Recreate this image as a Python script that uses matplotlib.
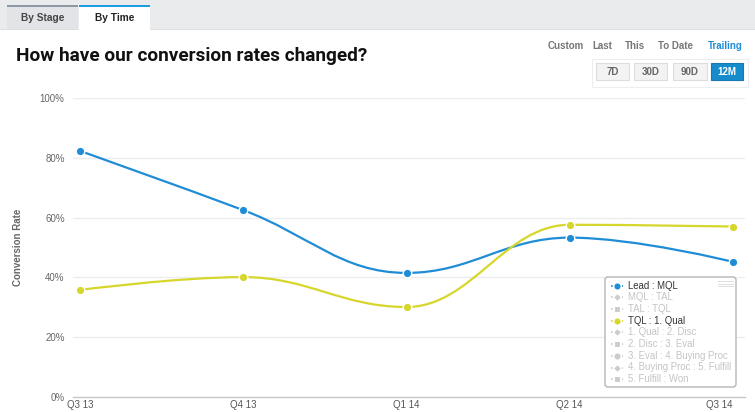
import matplotlib
matplotlib.use("Agg")
import matplotlib.pyplot as plt
from matplotlib.path import Path
from matplotlib.patches import PathPatch, Rectangle, FancyBboxPatch
from matplotlib.lines import Line2D

# ---------------- data ----------------
quarters = ["Q3 13", "Q4 13", "Q1 14", "Q2 14", "Q3 14"]
lead_mql = [82.3, 62.5, 41.5, 53.3, 45.2]
tql_qual = [35.8, 40.1, 30.1, 57.6, 57.0]
y_ticks = [0, 20, 40, 60, 80, 100]
legend_labels = ["Lead : MQL", "MQL : TAL", "TAL : TQL", "TQL : 1. Qual",
                 "1. Qual : 2. Disc", "2. Disc : 3. Eval", "3. Eval : 4. Buying Proc",
                 "4. Buying Proc : 5. Fulfill", "5. Fulfill : Won"]
legend_active = [True, False, False, True, False, False, False, False, False]
legend_markers = ["o", "D", "s", "o", "D", "s", "o", "D", "s"]
title = "How have our conversion rates changed?"
tabs = ["By Stage", "By Time"]
period_modes = ["Custom", "Last", "This", "To Date", "Trailing"]
period_buttons = ["7D", "30D", "90D", "12M"]

BLUE = "#1f8dd6"
YELLOW = "#d6d62c"
GRAY_TXT = "#666666"
FONT = "Liberation Sans"

W, H = 755, 412
fig = plt.figure(figsize=(W / 100, H / 100), dpi=100)
fig.patch.set_facecolor("white")


def fx(px):
    return px / W


def fy(py):
    return 1 - py / H


# ---------------- overlay (UI chrome) ----------------
ui = fig.add_axes([0, 0, 1, 1], zorder=0)
ui.set_xlim(0, W)
ui.set_ylim(H, 0)
ui.axis("off")

# top band
ui.add_patch(Rectangle((0, 0), W, 29, facecolor="#e9ebed", edgecolor="none"))
ui.add_patch(Rectangle((0, 29), W, 1, facecolor="#dcdfe2", edgecolor="none"))
# tabs
ui.add_patch(Rectangle((7, 5), 71, 24, facecolor="#e2e4e7", edgecolor="none"))
ui.add_patch(Rectangle((7, 5), 71, 2, facecolor="#8d9aa5", edgecolor="none"))
ui.add_patch(Rectangle((79, 5), 71, 25, facecolor="white", edgecolor="none"))
ui.add_patch(Rectangle((79, 5), 71, 2, facecolor="#1a9ee0", edgecolor="none"))
ui.text(42.5, 18, tabs[0], ha="center", va="center", fontsize=7.3,
        fontweight="bold", color="#444444", family=FONT)
ui.text(114.5, 18, tabs[1], ha="center", va="center", fontsize=7.3,
        fontweight="bold", color="#222222", family=FONT)

# title
ui.text(16.5, 56, title, ha="left", va="center", fontsize=13.7,
        fontweight="bold", color="#111111", family="Roboto")

# period mode texts
mode_x = [566, 602, 635, 676, 725]
for lbl, x in zip(period_modes, mode_x):
    ui.text(x, 46, lbl, ha="center", va="center", fontsize=7, fontweight="bold",
            color=BLUE if lbl == "Trailing" else "#777777", family=FONT)

# buttons group
ui.add_patch(Rectangle((592, 59), 156, 28, facecolor="white", edgecolor="#eeeeee", lw=0.8))
btn_x = [(596, 629), (634, 667), (673, 707), (711, 743)]
for lbl, (x0, x1) in zip(period_buttons, btn_x):
    active = lbl == "12M"
    ui.add_patch(Rectangle((x0, 63), x1 - x0, 17,
                           facecolor="#178ccc" if active else "#f3f3f3",
                           edgecolor="#1479b4" if active else "#dddddd", lw=0.8))
    ui.text((x0 + x1) / 2, 71.5, lbl, ha="center", va="center", fontsize=7,
            fontweight="bold", color="white" if active else "#666666", family=FONT)

# ---------------- chart ----------------
left, right, top, bottom = 73, 745, 98, 397
ax = fig.add_axes([fx(left), fy(bottom), fx(right - left), fy(top) - fy(bottom)], zorder=1)
ax.patch.set_alpha(0)
xs = list(range(len(quarters)))
spacing = (733 - 80) / 4
ax.set_xlim(-(80 - left) / spacing, 4 + (right - 733) / spacing)
ax.set_ylim(0, 100)
for s in ["top", "right", "left"]:
    ax.spines[s].set_visible(False)
ax.spines["bottom"].set_color("#c8c8c8")
ax.spines["bottom"].set_linewidth(1)
ax.set_yticks(y_ticks)
ax.set_yticklabels([f"{v}%" for v in y_ticks], fontsize=7, color=GRAY_TXT, family=FONT)
ax.set_xticks(xs)
ax.set_xticklabels(quarters, fontsize=7, color="#555555", family=FONT)
ax.tick_params(axis="both", length=0)
ax.tick_params(axis="y", pad=6)
ax.tick_params(axis="x", pad=2)
ax.xaxis.get_majorticklabels()[-1].set_horizontalalignment("right")
ax.xaxis.get_majorticklabels()[-1].set_x(4 + 12 / spacing)
ax.grid(axis="y", color="#ededed", lw=1)
ax.set_axisbelow(True)
ax.set_ylabel("Conversion Rate", fontsize=7, color=GRAY_TXT, family=FONT,
              fontweight="bold", labelpad=12)


def hc_spline_path(x, y, smoothing=1.5):
    denom = smoothing + 1
    n = len(x)
    lc = [(x[i], y[i]) for i in range(n)]
    rc = [(x[i], y[i]) for i in range(n)]
    for i in range(1, n - 1):
        px, py = x[i], y[i]
        lx, ly = x[i - 1], y[i - 1]
        nx, ny = x[i + 1], y[i + 1]
        lcx = (smoothing * px + lx) / denom
        lcy = (smoothing * py + ly) / denom
        rcx = (smoothing * px + nx) / denom
        rcy = (smoothing * py + ny) / denom
        corr = 0
        if rcx != lcx:
            corr = ((rcy - lcy) * (rcx - px)) / (rcx - lcx) + py - rcy
        lcy += corr
        rcy += corr
        if lcy > ly and lcy > py:
            lcy = max(ly, py)
            rcy = 2 * py - lcy
        elif lcy < ly and lcy < py:
            lcy = min(ly, py)
            rcy = 2 * py - lcy
        if rcy > ny and rcy > py:
            rcy = max(ny, py)
            lcy = 2 * py - rcy
        elif rcy < ny and rcy < py:
            rcy = min(ny, py)
            lcy = 2 * py - rcy
        lc[i] = (lcx, lcy)
        rc[i] = (rcx, rcy)
    verts = [(x[0], y[0])]
    codes = [Path.MOVETO]
    for i in range(1, n):
        verts += [rc[i - 1], lc[i], (x[i], y[i])]
        codes += [Path.CURVE4] * 3
    return Path(verts, codes)


for series, color in [(lead_mql, BLUE), (tql_qual, YELLOW)]:
    ax.add_patch(PathPatch(hc_spline_path(xs, series), facecolor="none",
                           edgecolor=color, lw=1.6, zorder=3, capstyle="round"))
    ax.plot(xs, series, linestyle="none", marker="o", markersize=6.2,
            markerfacecolor=color, markeredgecolor="white", markeredgewidth=1.0,
            zorder=4, clip_on=False)

# ---------------- legend (custom) ----------------
lg = fig.add_axes([0, 0, 1, 1], zorder=5)
lg.set_xlim(0, W)
lg.set_ylim(H, 0)
lg.axis("off")
lg.patch.set_alpha(0)
lg.add_patch(FancyBboxPatch((605, 277), 131, 110, boxstyle="round,pad=0,rounding_size=3",
                            facecolor="white", edgecolor="#b5b5b5", lw=1.0))
for yy in (281, 283.5, 286):
    lg.add_line(Line2D([718, 733], [yy, yy], color="#dddddd", lw=0.7))
row_y = [285.7, 297.3, 309.0, 320.7, 332.4, 344.1, 355.8, 367.5, 379.2]
for lbl, act, mk, yy in zip(legend_labels, legend_active, legend_markers, row_y):
    if lbl == legend_labels[0]:
        c = BLUE
    elif lbl == legend_labels[3]:
        c = YELLOW
    else:
        c = "#cccccc"
    lg.add_line(Line2D([611, 623], [yy, yy], color=c, lw=1.2, linestyle=(0, (1, 1.2))))
    ms = {"o": 5.2, "D": 3.8, "s": 4.6}[mk]
    lg.add_line(Line2D([617], [yy], marker=mk, markersize=ms, markerfacecolor=c,
                       markeredgecolor="white", markeredgewidth=0.8, linestyle="none"))
    lg.text(628, yy, lbl, ha="left", va="center", fontsize=6.9,
            color="#333333" if act else "#c4c4c4", family=FONT)

fig.savefig("out.png", dpi=100, facecolor="white")
